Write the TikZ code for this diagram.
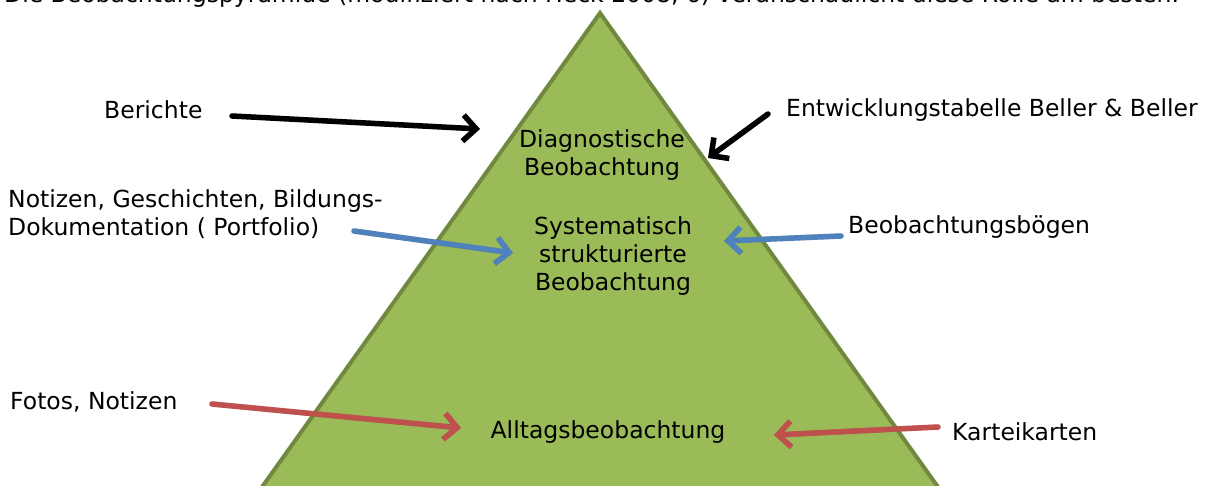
\documentclass[tikz,border=0pt]{standalone}
\usepackage{fontspec}
\setmainfont{DejaVu Sans}
\usetikzlibrary{arrows.meta}
\definecolor{pyrfill}{HTML}{9BBB59}
\definecolor{pyrline}{HTML}{71893F}
\definecolor{arrblue}{HTML}{4F81BD}
\definecolor{arrred}{HTML}{C0504D}
\tikzset{
  lbl/.style={font=\fontsize{23.5}{28}\selectfont, inner sep=0pt, text=black},
  arr/.style={line width=5.5pt, line cap=round, line join=round,
    -{Straight Barb[length=13pt,width=26pt,line width=5.5pt]}},
  shad/.style={arr, draw=black, opacity=0.15, shift={(2,3)}},
}
\begin{document}
\begin{tikzpicture}[x=1pt,y=-1pt]
\useasboundingbox (0,0) rectangle (1212,486);
% cut-off caption
\node[lbl, anchor=base west] (cap) at (4,3) {Die Beobachtungspyramide (modifiziert nach Heck 2008, 6) veranschaulicht diese Rolle am besten.};
% pyramid
\coordinate (apex) at (600,13);
\coordinate (bl) at (262,487);
\coordinate (br) at (938,487);
\fill[pyrfill] (bl) -- (apex) -- (br) -- cycle;
\draw[pyrline, line width=4pt, line join=miter] (bl) -- (apex) -- (br);
% inner labels
\node[lbl, align=center] (diag) at (602,155) {Diagnostische\\Beobachtung};
\node[lbl, align=center] (syst) at (613,256) {Systematisch\\strukturierte\\Beobachtung};
\node[lbl] (allt) at (608,432) {Alltagsbeobachtung};
% outer labels
\node[lbl, anchor=west] (ber) at (104,110) {Berichte};
\node[lbl, anchor=west] (ent) at (786,110) {Entwicklungstabelle Beller \& Beller};
\node[lbl, anchor=west, align=left] (not) at (8,214) {Notizen, Geschichten, Bildungs-\\Dokumentation ( Portfolio)};
\node[lbl, anchor=west] (beo) at (848,227) {Beobachtungsbögen};
\node[lbl, anchor=west] (fot) at (10,402) {Fotos, Notizen};
\node[lbl, anchor=west] (kar) at (952,432) {Karteikarten};
% arrow end points
\coordinate (a1s) at (232,116); \coordinate (a1e) at (480,129);
\coordinate (a2s) at (768,114); \coordinate (a2e) at (708,158);
\coordinate (a3s) at (354,231); \coordinate (a3e) at (513,253);
\coordinate (a4s) at (841,236); \coordinate (a4e) at (724,241);
\coordinate (a5s) at (212,404); \coordinate (a5e) at (461,428);
\coordinate (a6s) at (938,427); \coordinate (a6e) at (774,435);
% shadows
\foreach \s/\e in {a1s/a1e,a2s/a2e,a3s/a3e,a4s/a4e,a5s/a5e,a6s/a6e}
  \draw[shad] (\s) -- (\e);
% arrows
\draw[arr, draw=black] (a1s) -- (a1e);
\draw[arr, draw=black] (a2s) -- (a2e);
\draw[arr, draw=arrblue] (a3s) -- (a3e);
\draw[arr, draw=arrblue] (a4s) -- (a4e);
\draw[arr, draw=arrred] (a5s) -- (a5e);
\draw[arr, draw=arrred] (a6s) -- (a6e);
\end{tikzpicture}
\end{document}
